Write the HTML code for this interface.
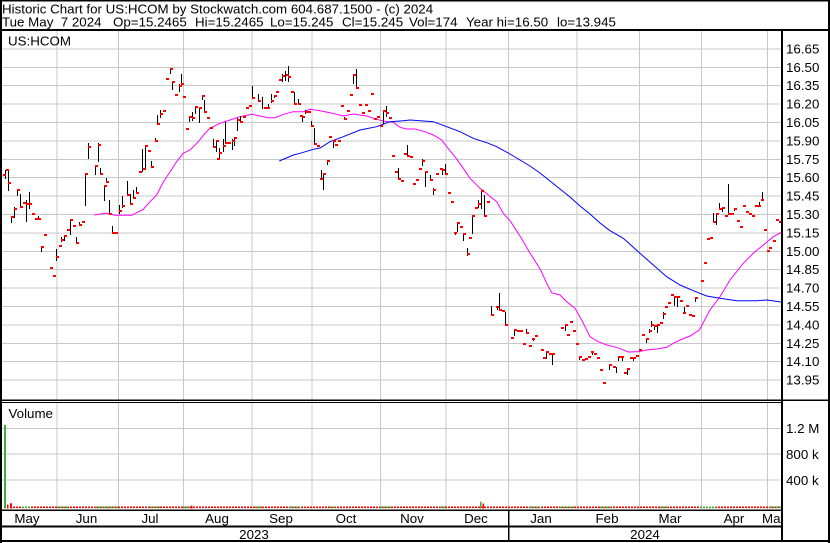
<!DOCTYPE html>
<html><head><meta charset="utf-8"><style>
html,body{margin:0;padding:0;background:#fff;}
svg{display:block;}
text{font-family:"Liberation Sans",Arial,sans-serif;font-size:13.33px;fill:#000;}
</style></head><body>
<svg width="830" height="543" viewBox="0 0 830 543" xmlns="http://www.w3.org/2000/svg">
<rect x="0" y="0" width="830" height="543" fill="#fff"/>
<g stroke="#c8c8c8" stroke-width="1" shape-rendering="crispEdges">
<path d="M2 49H781M2 67.3H781M2 85.7H781M2 104.1H781M2 122.5H781M2 140.9H781M2 159.3H781M2 177.7H781M2 196.1H781M2 214.5H781M2 232.9H781M2 251.3H781M2 269.7H781M2 288.1H781M2 306.5H781M2 324.9H781M2 343.3H781M2 361.7H781M2 380.1H781"/>
<path d="M57 31V400M118.5 31V400M183.5 31V400M252 31V400M312 31V400M380.5 31V400M446 31V400M508.5 31V400M577 31V400M639.5 31V400M701.5 31V400M767.5 31V400"/>
<path d="M57 403V509M118.5 403V509M183.5 403V509M252 403V509M312 403V509M380.5 403V509M446 403V509M508.5 403V509M577 403V509M639.5 403V509M701.5 403V509M767.5 403V509"/>
<path d="M2 428.3H781M2 454H781M2 480H781"/>
</g>
<polyline fill="none" stroke="#ff00ff" stroke-width="1" points="94.3,215 100,214 106.7,213.3 111.7,214.3 114.3,215.3 131.7,215.3 136.7,212.7 143.3,209.3 150,201.7 156.7,195 163.3,182 170,172 176.7,161.5 183.3,153.3 190,150 198.3,141.7 205,133.3 210,128.3 220,123.3 230,120 240,116.7 251.7,114.3 260,116 268.3,117.7 275,117.7 283.3,114.3 293.3,111.7 303.3,111.7 310,109.3 320,110.7 330,112.7 343.3,116 353.3,114 366.7,116 376.7,119.3 383.3,121 393.3,122.3 400,127.3 406.7,129 415,129 425,131.7 433.3,135 441.7,140 446.7,146.7 455,156.7 463.3,168.3 470,178.3 480,188.3 488.3,195 496.7,201.7 503.3,213.3 510,220.7 520,236 530,253 540.7,270 546.7,283.3 551.7,292.7 560,295 566.7,301.7 575,308.3 581.7,320 590,336.7 598.3,341.7 606.7,345 616.7,347.3 628.3,352 638.3,351.7 646.7,350 656.7,349 666.7,347.3 673.3,343.3 680,340 690,336 699.3,330 710,310 720,296.7 730,280 743.3,263.3 753.3,253.3 763.3,245 773.3,236.7 781,232.5"/>
<polyline fill="none" stroke="#0000ff" stroke-width="1" points="279.3,161 293.3,155 300,153.3 313.3,149.3 320,148 330,141.7 343.3,136.7 360,130 376.7,126.7 390,121.7 403.3,120.7 410,120 423.3,121 433.3,121.7 446.7,126.7 460,131.7 473.3,138.3 486.7,142.7 496.7,146.7 510,154 520,160 530,166 540,173 550,181 560,189 570,197 580,206 590,214 600,223 610,230.7 623.3,238.3 640,253.3 653.3,265 666.7,276.7 680,285 693.3,290.7 706.7,296 720,298.3 736.7,300.7 756.7,300.7 766.7,300 781,302"/>
<path fill="none" stroke="#000" stroke-width="1" shape-rendering="crispEdges" d="M5.5 170V179M8.5 169V191M11.5 216V223M14.5 207V218M17.5 189V196M20.5 194V207M26.5 200V222M29.5 192V209M38.5 216V220M41.5 246V252M56.5 249V261M61.5 237V242M64.5 235V241M70.5 219V235M76.5 237V243M79.5 222V225M85.5 173V206M88.5 143V159M98.5 143V162M95.5 165V175M100.5 168V175M104.5 185V201M106.5 178V183M109.5 200V214M112.5 226V233M119.5 205V214M122.5 196V208M127.5 181V196M130.5 194V205M133.5 190V198M136.5 187V193M142.5 149V172M145.5 145V168M151.5 161V167M155.5 138V142M157.5 115V124M160.5 110V118M170.5 68V74M172.5 81V90M179.5 84V92M181.5 74V85M189.5 116V122M192.5 112V121M195.5 106V114M199.5 107V123M202.5 95V100M204.5 100V113M213.5 139V148M216.5 140V152M219.5 148V158M223.5 139V152M225.5 122V144M232.5 139V150M234.5 137V146M237.5 118V131M240.5 116V123M252.5 86V98M258.5 94V102M262.5 97V109M268.5 104V109M271.5 94V103M274.5 95V98M282.5 74V82M285.5 71V81M288.5 66V82M294.5 92V105M298.5 99V105M302.5 116V122M305.5 110V114M311.5 121V127M314.5 128V144M321.5 170V179M323.5 173V190M327.5 160V165M333.5 141V148M344.5 117V120M353.5 74V84M356.5 69V88M383.5 110V124M386.5 106V117M398.5 168V179M407.5 145V157M422.5 159V166M425.5 171V187M430.5 175V181M433.5 188V195M440.5 168V170M442.5 168V175M445.5 164V175M455.5 232V235M457.5 222V232M463.5 233V241M467.5 248V256M472.5 215V234M478.5 200V208M481.5 190V209M484.5 195V217M491.5 306V315M497.5 306V310M499.5 293V310M505.5 312V325M514.5 329V336M526.5 329V334M533.5 338V341M546.5 351V359M552.5 353V365M565.5 324V331M579.5 356V360M592.5 351V355M609.5 364V370M616.5 367V373M618.5 356V361M622.5 356V361M627.5 368V375M633.5 357V361M646.5 338V343M649.5 329V333M651.5 321V327M654.5 325V330M657.5 325V333M663.5 312V319M674.5 296V306M677.5 296V307M684.5 307V313M695.5 297V302M713.5 213V223M716.5 213V225M719.5 203V210M722.5 207V212M728.5 184V214M734.5 208V211M759.5 202V207M762.5 192V201"/>
<path fill="#ff0000" shape-rendering="crispEdges" d="M3 174h3v2h-3zM6 169h3v2h-3zM8 182h3v2h-3zM11 216h3v2h-3zM14 208h3v2h-3zM17 189h3v2h-3zM20 206h3v2h-3zM23 202h3v2h-3zM26 203h3v2h-3zM29 203h3v2h-3zM32 213h3v2h-3zM35 218h3v2h-3zM38 218h3v2h-3zM41 246h3v2h-3zM44 234h3v2h-3zM50 267h3v2h-3zM53 275h3v2h-3zM56 256h3v2h-3zM59 245h3v2h-3zM61 239h3v2h-3zM64 235h3v2h-3zM67 229h3v2h-3zM70 219h3v2h-3zM73 225h3v2h-3zM76 242h3v2h-3zM79 224h3v2h-3zM82 221h3v2h-3zM85 173h3v2h-3zM88 146h3v2h-3zM98 144h3v2h-3zM95 165h3v2h-3zM100 173h3v2h-3zM104 185h3v2h-3zM106 181h3v2h-3zM109 213h3v2h-3zM112 232h3v2h-3zM115 232h3v2h-3zM119 210h3v2h-3zM122 205h3v2h-3zM127 194h3v2h-3zM130 203h3v2h-3zM133 197h3v2h-3zM136 192h3v2h-3zM139 171h3v2h-3zM143 168h3v2h-3zM145 145h3v2h-3zM148 150h3v2h-3zM151 166h3v2h-3zM155 140h3v2h-3zM157 123h3v2h-3zM160 113h3v2h-3zM163 110h3v2h-3zM166 78h3v2h-3zM170 68h3v2h-3zM172 81h3v2h-3zM175 94h3v2h-3zM179 85h3v2h-3zM181 83h3v2h-3zM183 96h3v2h-3zM186 128h3v2h-3zM189 116h3v2h-3zM192 117h3v2h-3zM195 106h3v2h-3zM199 107h3v2h-3zM202 95h3v2h-3zM204 111h3v2h-3zM207 117h3v2h-3zM210 127h3v2h-3zM213 146h3v2h-3zM216 140h3v2h-3zM217 158h3v2h-3zM219 152h3v2h-3zM223 145h3v2h-3zM225 142h3v2h-3zM228 142h3v2h-3zM232 140h3v2h-3zM234 137h3v2h-3zM237 119h3v2h-3zM240 121h3v2h-3zM243 116h3v2h-3zM246 107h3v2h-3zM249 105h3v2h-3zM252 97h3v2h-3zM258 100h3v2h-3zM264 107h3v2h-3zM267 107h3v2h-3zM271 100h3v2h-3zM274 95h3v2h-3zM276 91h3v2h-3zM279 79h3v2h-3zM282 75h3v2h-3zM286 74h3v2h-3zM288 76h3v2h-3zM291 91h3v2h-3zM294 103h3v2h-3zM298 103h3v2h-3zM300 115h3v2h-3zM302 116h3v2h-3zM305 111h3v2h-3zM308 111h3v2h-3zM311 125h3v2h-3zM314 143h3v2h-3zM317 145h3v2h-3zM320 178h3v2h-3zM323 173h3v2h-3zM327 160h3v2h-3zM329 136h3v2h-3zM333 140h3v2h-3zM335 144h3v2h-3zM338 140h3v2h-3zM341 105h3v2h-3zM344 118h3v2h-3zM347 110h3v2h-3zM350 94h3v2h-3zM353 74h3v2h-3zM356 87h3v2h-3zM359 104h3v2h-3zM362 112h3v2h-3zM365 104h3v2h-3zM368 110h3v2h-3zM371 93h3v2h-3zM374 118h3v2h-3zM377 116h3v2h-3zM380 125h3v2h-3zM383 110h3v2h-3zM386 112h3v2h-3zM389 117h3v2h-3zM392 155h3v2h-3zM395 171h3v2h-3zM398 178h3v2h-3zM401 180h3v2h-3zM404 153h3v2h-3zM407 155h3v2h-3zM410 156h3v2h-3zM413 183h3v2h-3zM416 179h3v2h-3zM419 168h3v2h-3zM422 160h3v2h-3zM425 171h3v2h-3zM430 179h3v2h-3zM433 189h3v2h-3zM436 173h3v2h-3zM440 168h3v2h-3zM442 169h3v2h-3zM445 173h3v2h-3zM448 192h3v2h-3zM451 201h3v2h-3zM454 232h3v2h-3zM457 222h3v2h-3zM460 226h3v2h-3zM463 233h3v2h-3zM467 253h3v2h-3zM469 237h3v2h-3zM472 215h3v2h-3zM475 207h3v2h-3zM478 203h3v2h-3zM481 190h3v2h-3zM484 215h3v2h-3zM487 201h3v2h-3zM491 314h3v2h-3zM496 306h3v2h-3zM499 309h3v2h-3zM502 310h3v2h-3zM505 324h3v2h-3zM511 337h3v2h-3zM514 329h3v2h-3zM517 330h3v2h-3zM520 330h3v2h-3zM523 343h3v2h-3zM526 332h3v2h-3zM529 345h3v2h-3zM532 338h3v2h-3zM535 335h3v2h-3zM541 349h3v2h-3zM543 357h3v2h-3zM546 351h3v2h-3zM549 353h3v2h-3zM552 353h3v2h-3zM561 327h3v2h-3zM565 324h3v2h-3zM567 334h3v2h-3zM570 321h3v2h-3zM573 330h3v2h-3zM576 343h3v2h-3zM579 356h3v2h-3zM582 359h3v2h-3zM585 358h3v2h-3zM588 356h3v2h-3zM591 351h3v2h-3zM594 353h3v2h-3zM597 357h3v2h-3zM600 369h3v2h-3zM603 382h3v2h-3zM609 364h3v2h-3zM613 366h3v2h-3zM618 356h3v2h-3zM621 356h3v2h-3zM624 372h3v2h-3zM627 368h3v2h-3zM630 357h3v2h-3zM633 357h3v2h-3zM636 355h3v2h-3zM639 349h3v2h-3zM642 334h3v2h-3zM646 338h3v2h-3zM649 330h3v2h-3zM651 324h3v2h-3zM654 325h3v2h-3zM657 324h3v2h-3zM660 322h3v2h-3zM663 313h3v2h-3zM665 306h3v2h-3zM668 302h3v2h-3zM671 294h3v2h-3zM674 296h3v2h-3zM677 296h3v2h-3zM680 300h3v2h-3zM683 312h3v2h-3zM686 305h3v2h-3zM689 314h3v2h-3zM692 315h3v2h-3zM695 297h3v2h-3zM701 280h3v2h-3zM704 262h3v2h-3zM707 238h3v2h-3zM710 237h3v2h-3zM713 221h3v2h-3zM716 213h3v2h-3zM719 208h3v2h-3zM722 207h3v2h-3zM725 215h3v2h-3zM728 213h3v2h-3zM731 213h3v2h-3zM734 208h3v2h-3zM737 220h3v2h-3zM740 226h3v2h-3zM743 205h3v2h-3zM746 211h3v2h-3zM749 213h3v2h-3zM752 215h3v2h-3zM755 205h3v2h-3zM758 205h3v2h-3zM761 199h3v2h-3zM764 229h3v2h-3zM767 250h3v2h-3zM769 247h3v2h-3zM773 240h3v2h-3zM776 219h3v2h-3zM779 221h2v2h-2z"/>
<!-- volume -->
<line x1="13" y1="507.3" x2="781" y2="507.3" stroke="#ff0000" stroke-width="1.6" stroke-dasharray="2 1"/>
<g stroke="#3cb03c" stroke-width="1.6" stroke-dasharray="2 1">
<line x1="22" y1="507.3" x2="31" y2="507.3"/>
<line x1="57" y1="507.3" x2="69" y2="507.3"/>
<line x1="95" y1="507.3" x2="118" y2="507.3"/>
<line x1="150" y1="507.3" x2="160" y2="507.3"/>
<line x1="183" y1="507.3" x2="190" y2="507.3"/>
<line x1="255" y1="507.3" x2="262" y2="507.3"/>
<line x1="290" y1="507.3" x2="300" y2="507.3"/>
<line x1="330" y1="507.3" x2="336" y2="507.3"/>
<line x1="380" y1="507.3" x2="392" y2="507.3"/>
<line x1="440" y1="507.3" x2="446" y2="507.3"/>
<line x1="530" y1="507.3" x2="540" y2="507.3"/>
<line x1="560" y1="507.3" x2="575" y2="507.3"/>
<line x1="600" y1="507.3" x2="612" y2="507.3"/>
<line x1="660" y1="507.3" x2="668" y2="507.3"/>
<line x1="700" y1="507.3" x2="716" y2="507.3"/>
<line x1="770" y1="507.3" x2="781" y2="507.3"/>
</g>
<rect x="4" y="425" width="2" height="83.5" fill="#3cb03c"/>
<rect x="7" y="504.5" width="1.5" height="4" fill="#ff0000"/>
<rect x="10" y="503.3" width="2" height="5.2" fill="#ff0000"/>
<rect x="191" y="505.5" width="1.5" height="3" fill="#ff0000"/>
<rect x="480" y="501.7" width="1.5" height="6.8" fill="#3cb03c"/>
<rect x="482.5" y="503.5" width="1.5" height="5" fill="#ff0000"/>
<!-- frame -->
<g fill="#000" shape-rendering="crispEdges">
<rect x="0" y="0" width="830" height="1.5"/>
<rect x="0" y="0" width="2" height="543"/>
<rect x="828" y="0" width="2" height="543"/>
<rect x="0" y="540" width="830" height="2"/>
<rect x="0" y="29" width="830" height="2"/>
<rect x="781" y="29" width="2" height="513"/>
<rect x="0" y="399.5" width="830" height="1.5"/>
<rect x="0" y="401.8" width="781" height="1.3"/>
<rect x="0" y="509.3" width="781" height="1.7"/>
<rect x="0" y="525.7" width="781" height="1.6"/>
<rect x="508" y="510" width="1.5" height="31"/>
</g>
<!-- header -->
<text x="2" y="13.5">Historic Chart for US:HCOM by Stockwatch.com 604.687.1500 - (c) 2024</text>
<text x="2" y="26.5" style="white-space:pre" xml:space="preserve">Tue May  7 2024</text>
<text x="113" y="26.5">Op=15.2465</text>
<text x="195" y="26.5">Hi=15.2465</text>
<text x="270" y="26.5">Lo=15.245</text>
<text x="342" y="26.5">Cl=15.245</text>
<text x="409" y="26.5">Vol=174</text>
<text x="466" y="26.5">Year hi=16.50</text>
<text x="557" y="26.5">lo=13.945</text>
<text x="8" y="45.5">US:HCOM</text>
<text x="8.5" y="418">Volume</text>
<!-- price axis labels -->
<g>
<text x="786" y="53.4">16.65</text>
<text x="786" y="71.8">16.50</text>
<text x="786" y="90.2">16.35</text>
<text x="786" y="108.6">16.20</text>
<text x="786" y="127">16.05</text>
<text x="786" y="145.4">15.90</text>
<text x="786" y="163.8">15.75</text>
<text x="786" y="182.2">15.60</text>
<text x="786" y="200.6">15.45</text>
<text x="786" y="219">15.30</text>
<text x="786" y="237.4">15.15</text>
<text x="786" y="255.8">15.00</text>
<text x="786" y="274.2">14.85</text>
<text x="786" y="292.6">14.70</text>
<text x="786" y="311">14.55</text>
<text x="786" y="329.4">14.40</text>
<text x="786" y="347.8">14.25</text>
<text x="786" y="366.2">14.10</text>
<text x="786" y="384.6">13.95</text>
</g>
<text x="786" y="433">1.2 M</text>
<text x="786" y="459">800 k</text>
<text x="786" y="485">400 k</text>
<!-- month labels -->
<g text-anchor="middle">
<text x="27" y="523">May</text>
<text x="86.5" y="523">Jun</text>
<text x="150" y="523">Jul</text>
<text x="217" y="523">Aug</text>
<text x="281" y="523">Sep</text>
<text x="346" y="523">Oct</text>
<text x="412" y="523">Nov</text>
<text x="476" y="523">Dec</text>
<text x="541" y="523">Jan</text>
<text x="607" y="523">Feb</text>
<text x="670" y="523">Mar</text>
<text x="734" y="523">Apr</text>
<text x="254" y="539">2023</text>
<text x="645" y="539">2024</text>
</g>
<svg x="0" y="511" width="781" height="15" overflow="hidden"><text x="762" y="12">May</text></svg>
</svg>
</body></html>
